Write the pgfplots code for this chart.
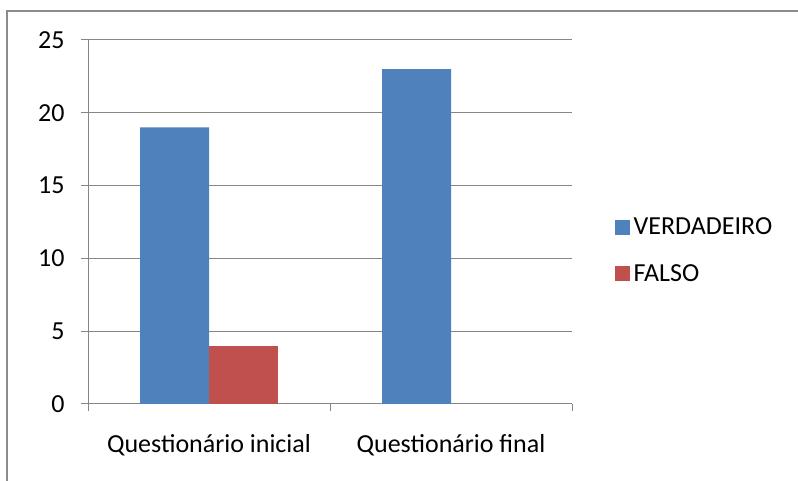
\documentclass[border=0pt]{standalone}
\usepackage{pgfplots}
\pgfplotsset{compat=1.18}
\usepackage{fontspec}
\setmainfont{Carlito}

\definecolor{verdadeiro}{HTML}{4F81BD}
\definecolor{falso}{HTML}{C0504D}
\definecolor{eixo}{HTML}{868686}
\definecolor{moldura}{HTML}{8C8C8C}

\begin{document}
\begin{tikzpicture}[x=1pt,y=1pt,font=\fontsize{26}{31}\selectfont]
  \path[use as bounding box] (0,0) rectangle (798,481);
  % chart frame
  \draw[moldura, line width=2pt] (6.5,-5) -- (6.5,470.2) -- (805,470.2);
  \begin{axis}[
      at={(88pt,77pt)}, anchor=south west,
      scale only axis, width=484pt, height=364pt,
      xmin=-0.5, xmax=1.5, ymin=0, ymax=25,
      ybar=0pt, bar width=69pt,
      axis x line*=bottom, axis y line*=left,
      axis line style={eixo, line width=1pt},
      ytick={0,5,...,25},
      ymajorgrids, grid style={eixo, line width=1pt},
      xtick={-0.5,0.5,1.5}, xticklabels={},
      extra x ticks={0,1},
      extra x tick labels={Questionário inicial, Questionário final},
      extra x tick style={major tick length=0pt, grid=none,
        xticklabel style={yshift=-27pt}},
      tick align=outside, major tick length=7pt,
      tick style={eixo, line width=1pt},
      tick label style={font=\fontsize{26}{31}\selectfont, text=black},
      /pgf/number format/assume math mode=true,
      yticklabel style={xshift=-13pt},
      legend style={at={(1.0888,0.4217)}, anchor=west, draw=none, fill=none,
        inner sep=0pt, row sep=28pt,
        font=\fontsize{26}{31}\selectfont,
        nodes={inner xsep=3.5pt, inner ysep=0pt}},
      legend cell align=left,
      legend image code/.code={\fill[#1] (0.5pt,-7.5pt) rectangle (15.5pt,7.5pt);},
    ]
    \addplot[fill=verdadeiro, draw=none] coordinates {(0,19) (1,23)};
    \addplot[fill=falso, draw=none] coordinates {(0,4)};
    \legend{VERDADEIRO, FALSO}
  \end{axis}
\end{tikzpicture}
\end{document}
